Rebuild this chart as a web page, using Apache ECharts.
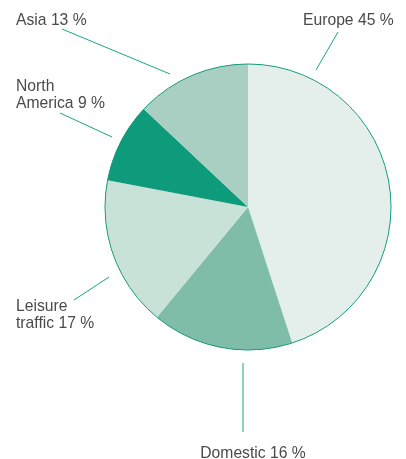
<!DOCTYPE html>
<html><head><meta charset="utf-8">
<script src="https://cdn.jsdelivr.net/npm/echarts@6/dist/echarts.min.js"></script>
<style>html,body{margin:0;padding:0;background:#fff}#c{width:406px;height:459px}</style>
</head><body><div id="c"></div>
<script>
const categories = ['Europe', 'Domestic', 'Leisure\ntraffic', 'North\nAmerica', 'Asia'];
const shares = [45, 16, 17, 9, 13];
const colors = ['#e4efeb', '#7fbda9', '#c8e2d8', '#0e9b7b', '#a9cfc2'];
// label anchor positions and leader-line endpoints (layout only)
const labelPos = [
  {x: 303, y: 21, align: 'left', line: [[316, 70], [338, 32]]},
  {x: 253, y: 454, align: 'center', line: [[243, 363], [243, 432]]},
  {x: 16, y: 315, align: 'left', line: [[109, 277], [74, 300]]},
  {x: 16, y: 95, align: 'left', line: [[112, 137], [60, 113]]},
  {x: 16, y: 21, align: 'left', line: [[170, 74], [62, 29]]}
];
const chart = echarts.init(document.getElementById('c'));
chart.setOption({
  animation: false,
  series: [
    {
      type: 'pie',
      center: [248, 207],
      radius: 143,
      startAngle: 90,
      clockwise: true,
      avoidLabelOverlap: false,
      silent: true,
      data: categories.map((n, i) => ({name: n, value: shares[i], itemStyle: {color: colors[i]}})),
      itemStyle: {borderWidth: 0},
      label: {
        show: true,
        position: 'outside',
        formatter: p => p.name + ' ' + p.value + ' %',
        fontFamily: 'Liberation Sans',
        fontSize: 15.7,
        lineHeight: 16.5,
        color: '#4a4a4a'
      },
      labelLine: {show: true, lineStyle: {color: '#1aa584', width: 1}},
      labelLayout: function (params) {
        const L = labelPos[params.dataIndex];
        return {x: L.x, y: L.y, align: L.align, verticalAlign: 'middle', labelLinePoints: L.line};
      }
    },
    {
      type: 'pie',
      center: [248, 207],
      radius: 143,
      silent: true,
      label: {show: false},
      labelLine: {show: false},
      data: [{value: 1, itemStyle: {color: 'rgba(0,0,0,0)', borderColor: '#169c7c', borderWidth: 1}}]
    }
  ]
});
</script></body></html>
